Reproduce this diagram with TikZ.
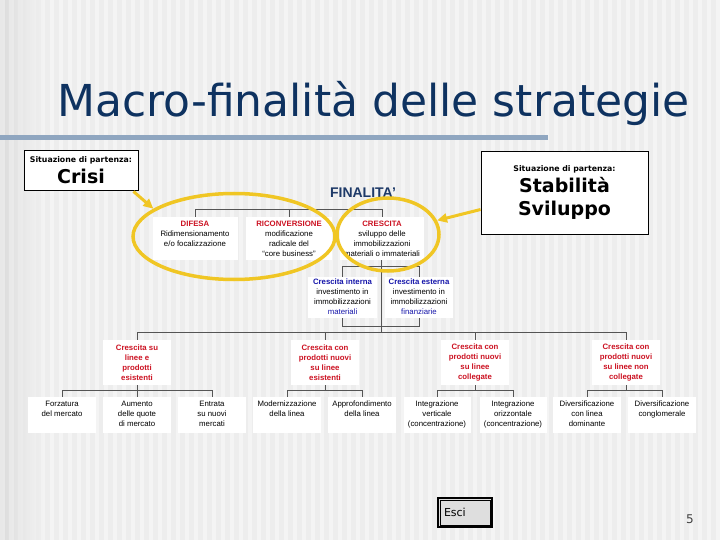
\documentclass[tikz,border=0pt]{standalone}
\usepackage{fontspec}
\setmainfont{Liberation Sans}
\newfontfamily\verdf{DejaVu Sans}
\usetikzlibrary{shapes.geometric,arrows.meta}
\definecolor{tred}{RGB}{204,18,34}
\definecolor{tblue}{RGB}{22,22,170}
\definecolor{navy}{RGB}{14,50,96}
\definecolor{fnavy}{RGB}{30,58,104}
\definecolor{ygold}{RGB}{240,198,36}
\definecolor{bgbase}{RGB}{244,244,244}
\definecolor{bgstripe}{RGB}{236,236,236}
\definecolor{barblue}{RGB}{143,166,192}
\definecolor{conn}{RGB}{85,85,85}
\newcommand{\tbx}[4]{\parbox[c][#2][t]{#1}{\centering\vspace*{#3}#4}}
\newcommand{\cbx}[3]{\parbox[c][#2][c]{#1}{\centering #3}}
\tikzset{
  bx/.style={fill=white, inner sep=0, font=\fontsize{7.8}{10}\selectfont},
  cn/.style={draw=conn, line width=0.8pt},
  ell/.style={draw=ygold, line width=3.5pt, ellipse, inner sep=0},
  yarr/.style={draw=ygold, line width=3pt, -{Triangle[length=10pt,width=9pt]}},
  sitbox/.style={draw=black, line width=0.9pt, fill=white, inner sep=0, align=center}
}
\begin{document}
\begin{tikzpicture}[x=1pt,y=-1pt]
\useasboundingbox (0,0) rectangle (720,540);
% background
\fill[bgbase] (0,0) rectangle (720,540);
\fill[left color=black!14, right color=bgbase] (0,0) rectangle (45,540);
\foreach \x in {0,9,...,711} \fill[bgstripe, opacity=0.8] (\x,0) rectangle ++(4.5,540);
% title
\node[anchor=base west, inner sep=0, font=\verdf\fontsize{44}{50}\selectfont, text=navy] (title) at (57,117) {Macro-finalità delle strategie};
\fill[barblue] (0,135.5) rectangle (548,140.5);
% situation boxes
\node[sitbox, minimum width=114pt, minimum height=40pt, font=\verdf\bfseries\fontsize{19}{19}\selectfont] (crisi) at (81,170) {{\fontsize{7.8}{9}\selectfont Situazione di partenza:}\\[2pt]Crisi};
\node[sitbox, minimum width=167pt, minimum height=83pt, font=\verdf\bfseries\fontsize{19}{23}\selectfont] (stab) at (564.5,192.5) {{\fontsize{7.8}{9}\selectfont Situazione di partenza:}\\[-2pt]Stabilità\\Sviluppo};
% FINALITA
\node[inner sep=0, font=\bfseries\fontsize{14}{16}\selectfont, text=fnavy] (fin) at (363,193) {FINALITA'};
% row 1
\node[bx] (d1) at (195,238.5) {\tbx{85pt}{43pt}{4pt}{{\bfseries\color{tred}DIFESA}\\Ridimensionamento\\e/o focalizzazione}};
\node[bx] (d2) at (289,238.5) {\tbx{86pt}{43pt}{4pt}{{\bfseries\color{tred}RICONVERSIONE}\\modificazione\\radicale del\\“core business”}};
\node[bx] (d3) at (382,238.5) {\tbx{84pt}{43pt}{4pt}{{\bfseries\color{tred}CRESCITA}\\sviluppo delle\\immobilizzazioni\\materiali o immateriali}};
% row 2
\node[bx] (ci) at (342.5,297.5) {\tbx{69pt}{41pt}{1.5pt}{{\bfseries\color{tblue}Crescita interna}\\investimento in\\immobilizzazioni\\{\color{tblue}materiali}}};
\node[bx] (ce) at (419,297.5) {\tbx{68pt}{41pt}{1.5pt}{{\bfseries\color{tblue}Crescita esterna}\\investimento in\\immobilizzazioni\\{\color{tblue}finanziarie}}};
% row 3
\node[bx] (s1) at (137,362.5) {\cbx{68pt}{45pt}{\bfseries\color{tred}Crescita su\\linee e\\prodotti\\esistenti}};
\node[bx] (s2) at (325,362.5) {\cbx{68pt}{45pt}{\bfseries\color{tred}Crescita con\\prodotti nuovi\\su linee\\esistenti}};
\node[bx] (s3) at (475,362.5) {\cbx{68pt}{45pt}{\bfseries\color{tred}Crescita con\\prodotti nuovi\\su linee\\collegate}};
\node[bx] (s4) at (626,362.5) {\cbx{68pt}{45pt}{\bfseries\color{tred}Crescita con\\prodotti nuovi\\su linee non\\collegate}};
% row 4
\node[bx] (a1) at (62,415) {\tbx{68pt}{36pt}{4pt}{Forzatura\\del mercato}};
\node[bx] (a2) at (137,415) {\tbx{68pt}{36pt}{4pt}{Aumento\\delle quote\\di mercato}};
\node[bx] (a3) at (212,415) {\tbx{68pt}{36pt}{4pt}{Entrata\\su nuovi\\mercati}};
\node[bx] (b1) at (287,415) {\tbx{68pt}{36pt}{4pt}{Modernizzazione\\della linea}};
\node[bx] (b2) at (362,415) {\tbx{68pt}{36pt}{4pt}{Approfondimento\\della linea}};
\node[bx] (c1) at (437,415) {\tbx{67pt}{36pt}{4pt}{Integrazione\\verticale\\(concentrazione)}};
\node[bx] (c2) at (513,415) {\tbx{67pt}{36pt}{4pt}{Integrazione\\orizzontale\\(concentrazione)}};
\node[bx] (e1n) at (587,415) {\tbx{68pt}{36pt}{4pt}{Diversificazione\\con linea\\dominante}};
\node[bx] (e2n) at (662,415) {\tbx{68pt}{36pt}{4pt}{Diversificazione\\conglomerale}};
% connectors
\draw[cn] (d1.north) -- ++(0,-7) -| (d3.north);
\draw[cn] (d2.north) -- ++(0,-7);
\coordinate (mb) at (381,333);
\draw[cn] (d3.south -| mb) -- (mb);
\draw[cn] (ci.north) -- ++(0,-10) -| (ce.north);
\draw[cn] (ci.south) -- ++(0,8) -| (ce.south);
\draw[cn] (s1.north) -- ++(0,-7) -| (s4.north);
\draw[cn] (s2.north) -- ++(0,-7);
\draw[cn] (s3.north) -- ++(0,-7);
\draw[cn] (a1.north) -- ++(0,-6) -| (a3.north);
\draw[cn] (s1.south) -- (a2.north);
\draw[cn] (b1.north) -- ++(0,-6) -| (b2.north);
\draw[cn] (s2.south) -- ++(0,6);
\draw[cn] (c1.north) -- ++(0,-6) -| (c2.north);
\draw[cn] (s3.south) -- ++(0,6);
\draw[cn] (e1n.north) -- ++(0,-6) -| (e2n.north);
\draw[cn] (s4.south) -- ++(0,6);
% ellipses and arrows
\node[ell, minimum width=202pt, minimum height=86pt] (el1) at (234,236.5) {};
\node[ell, minimum width=102pt, minimum height=73pt] (el2) at (388,234.5) {};
\draw[yarr] ([xshift=-5pt,yshift=-1pt]crisi.south east) -- (el1.161);
\draw[yarr] ([yshift=-17pt]stab.west) -- (el2.16);
% esci button
\node[draw=black, line width=1.3pt, fill=black!13, minimum width=54pt, minimum height=29pt, inner sep=0, text width=42pt, align=left, font=\verdf\fontsize{11}{13}\selectfont] (esci) at (465,512.5) {Esci};
\draw[black, line width=0.6pt] ([shift={(2.5pt,-2.5pt)}]esci.north west) rectangle ([shift={(-2.5pt,2.5pt)}]esci.south east);
\node[inner sep=0, font=\verdf\fontsize{12}{14}\selectfont, text=black!75] (pg) at (690,519) {5};
\end{tikzpicture}
\end{document}
